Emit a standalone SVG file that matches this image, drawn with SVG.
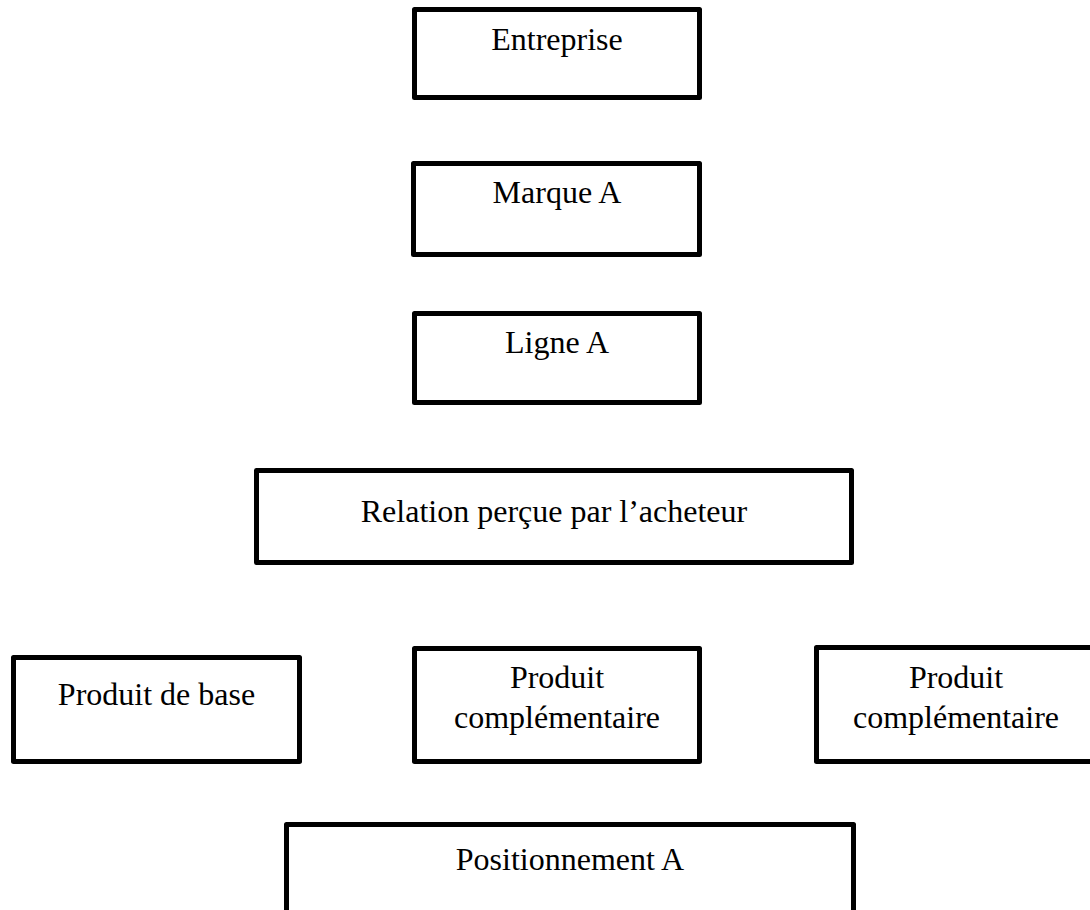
<svg xmlns="http://www.w3.org/2000/svg" width="1090" height="910" viewBox="0 0 1090 910">
  <style>
    .box { fill: #ffffff; stroke: #000000; stroke-width: 5; stroke-linejoin: round; }
    .lbl { font-family: "Liberation Serif", "Times New Roman", serif; font-size: 32px; fill: #000000; text-anchor: middle; }
  </style>
  <rect width="1090" height="910" fill="#ffffff"/>
  <g id="connectors"></g>
  <g id="entreprise">
    <rect class="box" x="414.5" y="9.5" width="285" height="88"/>
    <text class="lbl" x="557" y="50">Entreprise</text>
  </g>
  <g id="marque-a">
    <rect class="box" x="413.5" y="163.5" width="286" height="91"/>
    <text class="lbl" x="557" y="203">Marque A</text>
  </g>
  <g id="ligne-a">
    <rect class="box" x="414.5" y="313.5" width="285" height="89"/>
    <text class="lbl" x="557" y="353">Ligne A</text>
  </g>
  <g id="relation">
    <rect class="box" x="256.5" y="470.5" width="595" height="92"/>
    <text class="lbl" x="554" y="522">Relation perçue par l’acheteur</text>
  </g>
  <g id="produit-base">
    <rect class="box" x="13.5" y="657.5" width="286" height="104"/>
    <text class="lbl" x="156.5" y="705">Produit de base</text>
  </g>
  <g id="produit-compl-1">
    <rect class="box" x="414.5" y="648.5" width="285" height="113"/>
    <text class="lbl" x="557" y="688">Produit</text>
    <text class="lbl" x="557" y="728">complémentaire</text>
  </g>
  <g id="produit-compl-2">
    <rect class="box" x="816.5" y="647.5" width="290" height="114"/>
    <text class="lbl" x="956" y="688">Produit</text>
    <text class="lbl" x="956" y="728">complémentaire</text>
  </g>
  <g id="positionnement-a">
    <rect class="box" x="286.5" y="824.5" width="567" height="100"/>
    <text class="lbl" x="570" y="870">Positionnement A</text>
  </g>
</svg>
